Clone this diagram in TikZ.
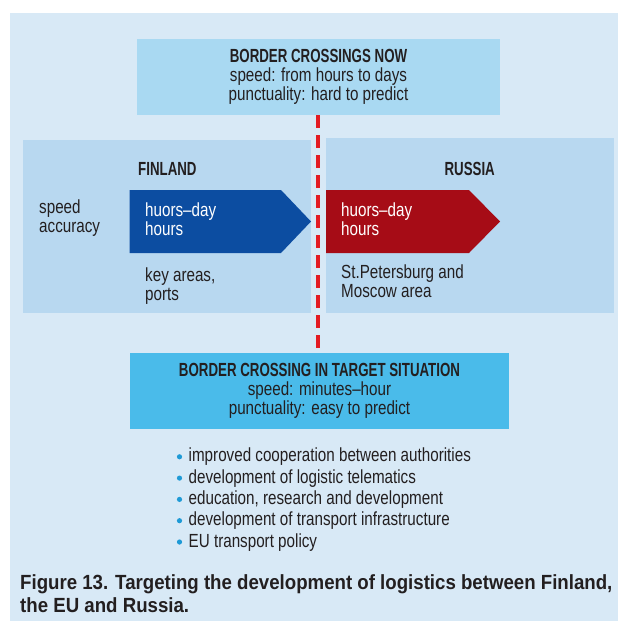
\documentclass[tikz,border=0pt]{standalone}
\usepackage{fontspec}
\setmainfont{Liberation Sans}[FakeStretch=0.80]
\newfontfamily\hdfont{Liberation Sans}[FakeStretch=0.70]
\newfontfamily\capfont{Liberation Sans}[FakeStretch=0.91]
\definecolor{bgc}{HTML}{D8E9F6}
\definecolor{topc}{HTML}{A9D9F2}
\definecolor{panelc}{HTML}{B8D8F0}
\definecolor{targc}{HTML}{4ABBEA}
\definecolor{bluec}{HTML}{0C4DA1}
\definecolor{redc}{HTML}{A60C16}
\definecolor{dashc}{HTML}{E31B22}
\definecolor{dotc}{HTML}{1E9AD6}
\definecolor{txt}{HTML}{231F20}
\begin{document}
\begin{tikzpicture}[x=1pt,y=-1pt,
  body/.style={font=\fontsize{19}{18.8}\selectfont, text=txt, inner sep=0pt},
  head/.style={font=\hdfont\bfseries\fontsize{19}{19}\selectfont, text=txt, inner sep=0pt},
  crossbox/.style={inner sep=0pt, align=center, text=txt, font=\fontsize{19}{19}\selectfont},
  panel/.style={fill=panelc, inner sep=0pt},
  bulletdot/.style={fill=dotc},
  borderline/.style={draw=dashc, line width=4pt, dash pattern=on 13pt off 7pt}]
\useasboundingbox (0,0) rectangle (618,621);
\fill[bgc] (9.5,13) rectangle (618,621);
% top box
\node[crossbox, fill=topc, minimum width=363pt, minimum height=76pt] (now) at (318.5,77)
  {{\hdfont\bfseries\fontsize{19}{19}\selectfont BORDER CROSSINGS NOW}\\speed: from hours to days\\punctuality: hard to predict};
% country panels
\node[panel, minimum width=288pt, minimum height=173pt] (fin) at (167,226.5) {};
\node[panel, minimum width=288pt, minimum height=175pt] (rus) at (470,225.5) {};
% target box
\node[crossbox, fill=targc, minimum width=379pt, minimum height=76pt] (target) at (319.5,391)
  {{\hdfont\bfseries\fontsize{19}{19}\selectfont BORDER CROSSING IN TARGET SITUATION}\\speed: minutes--hour\\punctuality: easy to predict};
% border line
\draw[borderline] ([xshift=-0.5pt]now.south) -- ([xshift=-0.5pt]now.south |- target.north);
% arrows
\fill[bluec] (129.5,190) -- (281,190) -- (311,221.5) -- (281,253) -- (129.5,253) -- cycle;
\fill[redc] (326,190) -- (469,190) -- (500,221.5) -- (469,253) -- (326,253) -- cycle;
% labels
\node[head, anchor=west] (finlab) at (138,169) {FINLAND};
\node[head, anchor=east] (ruslab) at (495,169) {RUSSIA};
\node[body, anchor=west, align=left] (crit) at (39,218) {speed\\accuracy};
\node[body, anchor=west, align=left, text=white] (finval) at (145,219.5) {huors--day\\hours};
\node[body, anchor=west, align=left, text=white] (rusval) at (341,219.5) {huors--day\\hours};
\node[body, anchor=west, align=left] (finarea) at (145,286) {key areas,\\ports};
\node[body, anchor=west, align=left] (rusarea) at (341,281) {St.Petersburg and\\Moscow area};
% bullets
\node[body, anchor=west, align=left, font=\fontsize{19}{21.3}\selectfont] (measures) at (188.5,499.5)
  {improved cooperation between authorities\\
   development of logistic telematics\\
   education, research and development\\
   development of transport infrastructure\\
   EU transport policy};
\foreach \yy in {456.8,478.1,499.4,520.7,542.0}
  \fill[bulletdot] (179.5,\yy) circle (2.6pt);
% caption
\node[anchor=west, align=left, inner sep=0pt, text=txt, font=\capfont\bfseries\fontsize{20.5}{23}\selectfont] (caption) at (20,593.5)
  {Figure 13. Targeting the development of logistics between Finland,\\the EU and Russia.};
\end{tikzpicture}
\end{document}
